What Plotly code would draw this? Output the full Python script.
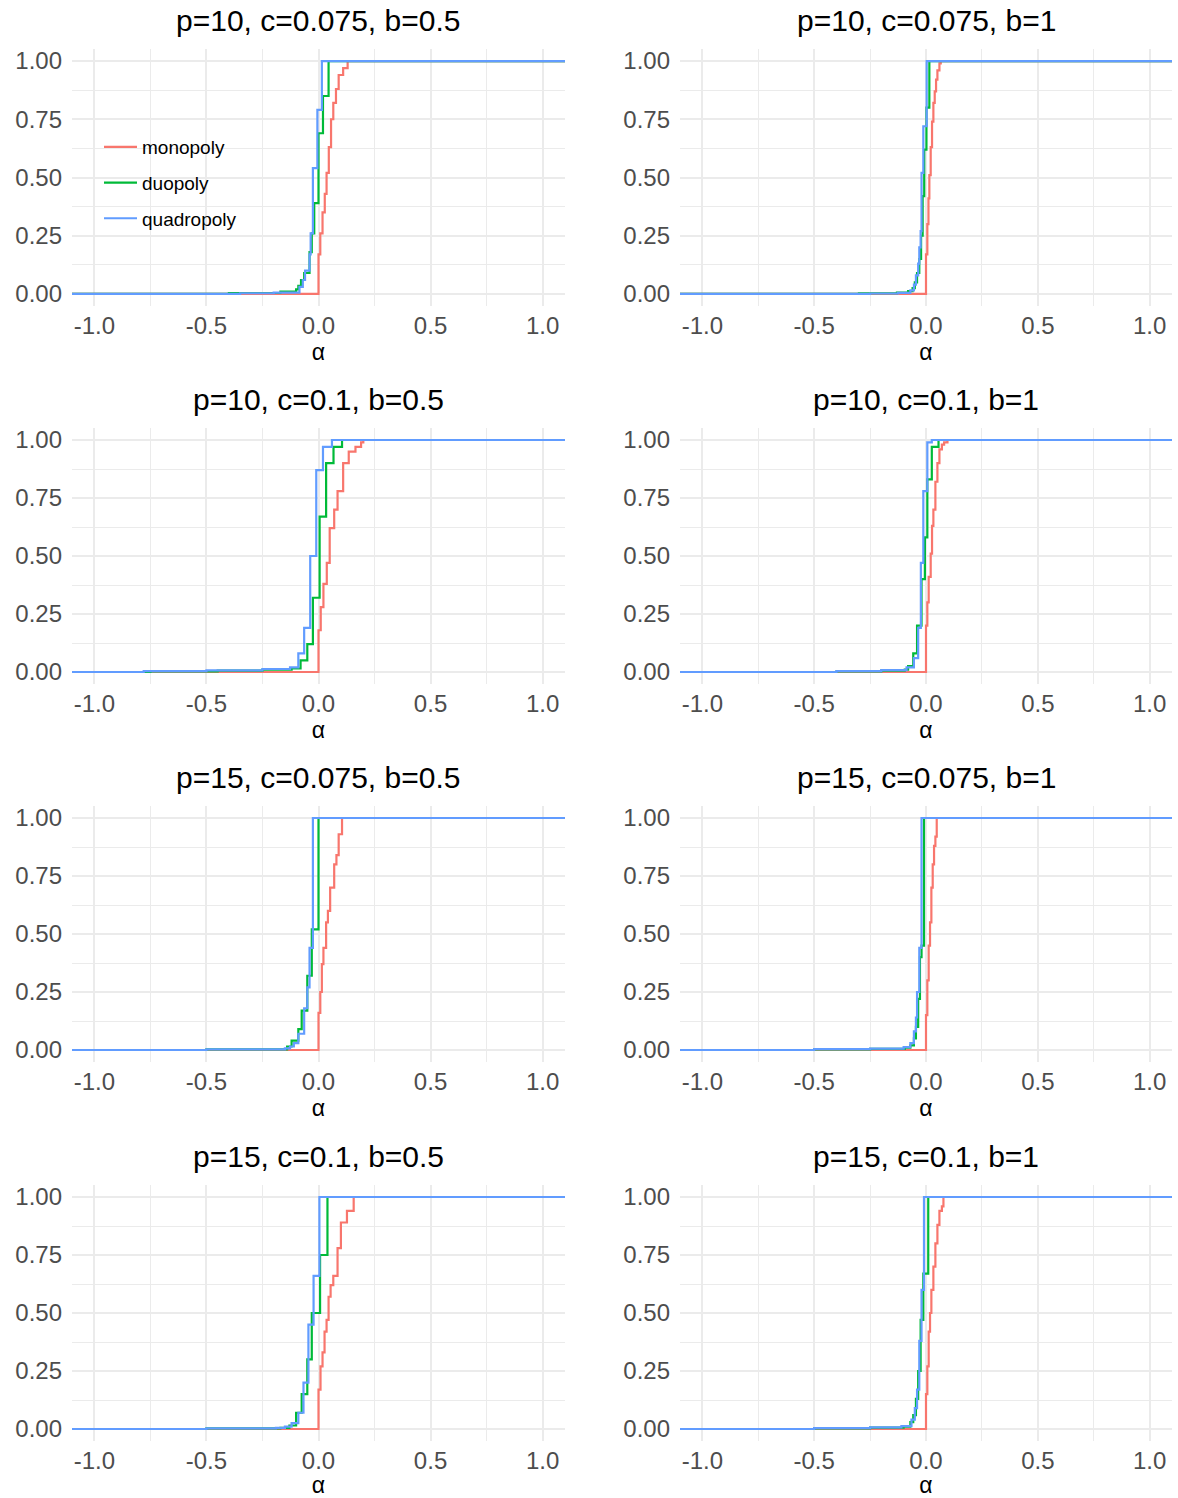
import plotly.graph_objects as go

# ---------------- data ----------------
PANEL_TITLES = [
    "p=10, c=0.075, b=0.5", "p=10, c=0.075, b=1",
    "p=10, c=0.1, b=0.5", "p=10, c=0.1, b=1",
    "p=15, c=0.075, b=0.5", "p=15, c=0.075, b=1",
    "p=15, c=0.1, b=0.5", "p=15, c=0.1, b=1",
]
SERIES = ["monopoly", "duopoly", "quadropoly"]
COLORS = ["#F8766D", "#00BA38", "#619CFF"]

X_TICKS = [-1.0, -0.5, 0.0, 0.5, 1.0]
X_TICK_LABELS = ["-1.0", "-0.5", "0.0", "0.5", "1.0"]
X_MINOR = [-0.75, -0.25, 0.25, 0.75]
Y_TICKS = [0.0, 0.25, 0.5, 0.75, 1.0]
Y_TICK_LABELS = ["0.00", "0.25", "0.50", "0.75", "1.00"]
Y_MINOR = [0.125, 0.375, 0.625, 0.875]
X_RANGE = [-1.1, 1.1]
Y_RANGE = [-0.05, 1.05]

# ECDF jumps (alpha where the step occurs) and the cumulative level after it
# Panel 1: p=10, c=0.075, b=0.5
P1_MONO_X = [0.0, 0.008, 0.018, 0.028, 0.036, 0.046, 0.056, 0.066, 0.078, 0.09, 0.11, 0.13]
P1_MONO_Y = [0.17, 0.26, 0.35, 0.43, 0.52, 0.63, 0.75, 0.82, 0.88, 0.94, 0.97, 1.0]
P1_DUO_X = [-0.4, -0.17, -0.1, -0.09, -0.078, -0.064, -0.04, -0.03, -0.019, 0.0, 0.02, 0.045]
P1_DUO_Y = [0.004, 0.01, 0.02, 0.035, 0.06, 0.09, 0.18, 0.26, 0.39, 0.69, 0.85, 1.0]
P1_QUAD_X = [-0.35, -0.2, -0.085, -0.07, -0.06, -0.04, -0.035, -0.025, -0.005, 0.015]
P1_QUAD_Y = [0.003, 0.006, 0.03, 0.06, 0.1, 0.17, 0.26, 0.54, 0.79, 1.0]

# Panel 2: p=10, c=0.075, b=1
P2_MONO_X = [0.0, 0.006, 0.011, 0.015, 0.021, 0.027, 0.033, 0.039, 0.045, 0.051, 0.06, 0.066]
P2_MONO_Y = [0.17, 0.3, 0.41, 0.51, 0.63, 0.74, 0.82, 0.87, 0.92, 0.96, 0.99, 1.0]
P2_DUO_X = [-0.3, -0.13, -0.08, -0.06, -0.05, -0.04, -0.03, -0.022, -0.015, -0.008, 0.002, 0.015]
P2_DUO_Y = [0.003, 0.006, 0.012, 0.025, 0.05, 0.09, 0.15, 0.25, 0.42, 0.62, 0.8, 1.0]
P2_QUAD_X = [-0.25, -0.125, -0.07, -0.054, -0.045, -0.035, -0.03, -0.024, -0.02, -0.012, 0.003]
P2_QUAD_Y = [0.002, 0.005, 0.015, 0.04, 0.08, 0.13, 0.2, 0.27, 0.52, 0.72, 1.0]

# Panel 3: p=10, c=0.1, b=0.5
P3_MONO_X = [0.0, 0.01, 0.022, 0.037, 0.05, 0.07, 0.085, 0.11, 0.135, 0.165, 0.19, 0.2]
P3_MONO_Y = [0.18, 0.28, 0.38, 0.47, 0.62, 0.7, 0.78, 0.9, 0.95, 0.97, 0.99, 1.0]
P3_DUO_X = [-0.75, -0.45, -0.25, -0.12, -0.08, -0.05, -0.025, 0.005, 0.034, 0.067, 0.105]
P3_DUO_Y = [0.003, 0.006, 0.01, 0.015, 0.05, 0.12, 0.32, 0.67, 0.9, 0.97, 1.0]
P3_QUAD_X = [-0.78, -0.5, -0.25, -0.127, -0.09, -0.064, -0.037, -0.01, 0.02, 0.06]
P3_QUAD_Y = [0.004, 0.007, 0.013, 0.02, 0.08, 0.19, 0.5, 0.87, 0.97, 1.0]

# Panel 4: p=10, c=0.1, b=1
P4_MONO_X = [0.0, 0.006, 0.012, 0.021, 0.027, 0.033, 0.042, 0.051, 0.06, 0.071, 0.081, 0.096]
P4_MONO_Y = [0.2, 0.3, 0.41, 0.51, 0.63, 0.7, 0.82, 0.9, 0.96, 0.98, 0.99, 1.0]
P4_DUO_X = [-0.4, -0.2, -0.095, -0.08, -0.057, -0.04, -0.02, -0.005, 0.006, 0.026, 0.056]
P4_DUO_Y = [0.003, 0.006, 0.01, 0.025, 0.08, 0.2, 0.4, 0.58, 0.83, 0.97, 1.0]
P4_QUAD_X = [-0.4, -0.2, -0.087, -0.054, -0.035, -0.023, -0.012, 0.006, 0.026]
P4_QUAD_Y = [0.004, 0.008, 0.02, 0.06, 0.19, 0.47, 0.78, 0.99, 1.0]

# Panel 5: p=15, c=0.075, b=0.5
P5_MONO_X = [0.0, 0.008, 0.015, 0.022, 0.034, 0.042, 0.052, 0.07, 0.08, 0.09, 0.105]
P5_MONO_Y = [0.16, 0.25, 0.37, 0.44, 0.55, 0.6, 0.7, 0.8, 0.84, 0.93, 1.0]
P5_DUO_X = [-0.5, -0.14, -0.12, -0.09, -0.075, -0.05, -0.03, 0.0]
P5_DUO_Y = [0.003, 0.015, 0.04, 0.09, 0.17, 0.32, 0.52, 1.0]
P5_QUAD_X = [-0.5, -0.15, -0.127, -0.11, -0.09, -0.064, -0.05, -0.04, -0.025]
P5_QUAD_Y = [0.003, 0.007, 0.015, 0.03, 0.07, 0.18, 0.27, 0.44, 1.0]

# Panel 6: p=15, c=0.075, b=1
P6_MONO_X = [0.0, 0.006, 0.012, 0.018, 0.024, 0.03, 0.036, 0.042, 0.048]
P6_MONO_Y = [0.15, 0.3, 0.45, 0.55, 0.7, 0.8, 0.88, 0.92, 1.0]
P6_DUO_X = [-0.5, -0.25, -0.095, -0.07, -0.054, -0.045, -0.035, -0.027, -0.02, -0.009]
P6_DUO_Y = [0.003, 0.005, 0.01, 0.02, 0.05, 0.1, 0.22, 0.4, 0.45, 1.0]
P6_QUAD_X = [-0.5, -0.25, -0.1, -0.07, -0.054, -0.045, -0.04, -0.03, -0.02]
P6_QUAD_Y = [0.004, 0.006, 0.012, 0.03, 0.08, 0.14, 0.25, 0.44, 1.0]

# Panel 7: p=15, c=0.1, b=0.5
P7_MONO_X = [0.0, 0.009, 0.018, 0.027, 0.036, 0.045, 0.054, 0.066, 0.085, 0.1, 0.127, 0.157]
P7_MONO_Y = [0.17, 0.27, 0.33, 0.42, 0.47, 0.57, 0.62, 0.66, 0.78, 0.89, 0.94, 1.0]
P7_DUO_X = [-0.5, -0.17, -0.13, -0.1, -0.075, -0.05, -0.03, 0.007, 0.04]
P7_DUO_Y = [0.003, 0.005, 0.015, 0.07, 0.15, 0.3, 0.5, 0.75, 1.0]
P7_QUAD_X = [-0.5, -0.19, -0.15, -0.12, -0.09, -0.067, -0.045, -0.022, 0.004]
P7_QUAD_Y = [0.003, 0.005, 0.01, 0.025, 0.07, 0.2, 0.45, 0.66, 1.0]

# Panel 8: p=15, c=0.1, b=1
P8_MONO_X = [0.0, 0.006, 0.012, 0.018, 0.024, 0.033, 0.042, 0.051, 0.06, 0.071, 0.078]
P8_MONO_Y = [0.15, 0.27, 0.42, 0.5, 0.6, 0.7, 0.8, 0.88, 0.94, 0.96, 1.0]
P8_DUO_X = [-0.5, -0.25, -0.1, -0.07, -0.057, -0.045, -0.035, -0.024, -0.012, 0.01]
P8_DUO_Y = [0.003, 0.006, 0.01, 0.03, 0.06, 0.13, 0.25, 0.47, 0.67, 1.0]
P8_QUAD_X = [-0.5, -0.25, -0.11, -0.065, -0.05, -0.04, -0.03, -0.02, -0.009]
P8_QUAD_Y = [0.004, 0.007, 0.012, 0.04, 0.09, 0.17, 0.38, 0.6, 1.0]

PANEL_DATA = [
    [(P1_MONO_X, P1_MONO_Y), (P1_DUO_X, P1_DUO_Y), (P1_QUAD_X, P1_QUAD_Y)],
    [(P2_MONO_X, P2_MONO_Y), (P2_DUO_X, P2_DUO_Y), (P2_QUAD_X, P2_QUAD_Y)],
    [(P3_MONO_X, P3_MONO_Y), (P3_DUO_X, P3_DUO_Y), (P3_QUAD_X, P3_QUAD_Y)],
    [(P4_MONO_X, P4_MONO_Y), (P4_DUO_X, P4_DUO_Y), (P4_QUAD_X, P4_QUAD_Y)],
    [(P5_MONO_X, P5_MONO_Y), (P5_DUO_X, P5_DUO_Y), (P5_QUAD_X, P5_QUAD_Y)],
    [(P6_MONO_X, P6_MONO_Y), (P6_DUO_X, P6_DUO_Y), (P6_QUAD_X, P6_QUAD_Y)],
    [(P7_MONO_X, P7_MONO_Y), (P7_DUO_X, P7_DUO_Y), (P7_QUAD_X, P7_QUAD_Y)],
    [(P8_MONO_X, P8_MONO_Y), (P8_DUO_X, P8_DUO_Y), (P8_QUAD_X, P8_QUAD_Y)],
]

# ---------------- layout ----------------
W, H = 1178, 1498
FONT = "Liberation Sans, Arial, Helvetica, sans-serif"
X_DOMAINS = [[72 / W, 565 / W], [680 / W, 1172 / W]]
ROW_PX = [(49.4, 305.6), (428.4, 683.6), (806.4, 1061.6), (1185.4, 1440.6)]
Y_DOMAINS = [[1 - b / H, 1 - t / H] for t, b in ROW_PX]
GRID = "#EBEBEB"
TICK_COLOR = "#4D4D4D"

fig = go.Figure()
annotations = []
layout_axes = {}

for i, title in enumerate(PANEL_TITLES):
    r, c = divmod(i, 2)
    k = i + 1
    xa = "x" if k == 1 else f"x{k}"
    ya = "y" if k == 1 else f"y{k}"
    for s, (xs, ys) in enumerate(PANEL_DATA[i]):
        px = [X_RANGE[0]] + list(xs) + [X_RANGE[1]]
        py = [0.0] + list(ys) + [ys[-1]]
        fig.add_trace(go.Scatter(
            x=px, y=py, mode="lines", line=dict(color=COLORS[s], width=2.2, shape="hv"),
            name=SERIES[s], legendgroup=SERIES[s], showlegend=(i == 0),
            xaxis=xa, yaxis=ya, hoverinfo="skip"))
    xkey = "xaxis" if k == 1 else f"xaxis{k}"
    ykey = "yaxis" if k == 1 else f"yaxis{k}"
    layout_axes[xkey] = dict(
        domain=X_DOMAINS[c], anchor=ya, range=X_RANGE, showgrid=True, gridcolor=GRID,
        gridwidth=2, zeroline=False, showline=False, tickmode="array",
        tickvals=X_TICKS, ticktext=X_TICK_LABELS, ticks="", ticklabelstandoff=3,
        tickfont=dict(family=FONT, size=24, color=TICK_COLOR),
        minor=dict(tickmode="array", tickvals=X_MINOR, showgrid=True, gridcolor=GRID, gridwidth=1.2, ticks=""),
        title=dict(text="α", font=dict(family=FONT, size=23, color="#000000"), standoff=0),
        automargin=False, fixedrange=True)
    layout_axes[ykey] = dict(
        domain=Y_DOMAINS[r], anchor=xa, range=Y_RANGE, showgrid=True, gridcolor=GRID,
        gridwidth=2, zeroline=False, showline=False, tickmode="array",
        tickvals=Y_TICKS, ticktext=Y_TICK_LABELS, ticks="", ticklabelstandoff=9,
        tickfont=dict(family=FONT, size=24, color=TICK_COLOR),
        minor=dict(tickmode="array", tickvals=Y_MINOR, showgrid=True, gridcolor=GRID, gridwidth=1.2, ticks=""),
        automargin=False, fixedrange=True)
    annotations.append(dict(
        text=title, xref="paper", yref="paper",
        x=(X_DOMAINS[c][0] + X_DOMAINS[c][1]) / 2, y=Y_DOMAINS[r][1],
        xanchor="center", yanchor="bottom", yshift=10, showarrow=False,
        font=dict(family=FONT, size=30, color="#000000")))

fig.update_layout(
    width=W, height=H,
    margin=dict(l=0, r=0, t=0, b=0),
    paper_bgcolor="white", plot_bgcolor="white",
    font=dict(family=FONT),
    annotations=annotations,
    legend=dict(
        x=99 / W, y=1 - 128 / H, xanchor="left", yanchor="top",
        bgcolor="rgba(0,0,0,0)", font=dict(family=FONT, size=19, color="#000000"),
        itemwidth=33, tracegroupgap=8),
    **layout_axes,
)

fig.write_html("out.html", config={"displayModeBar": False},
               post_script="document.body.style.margin='0';")
